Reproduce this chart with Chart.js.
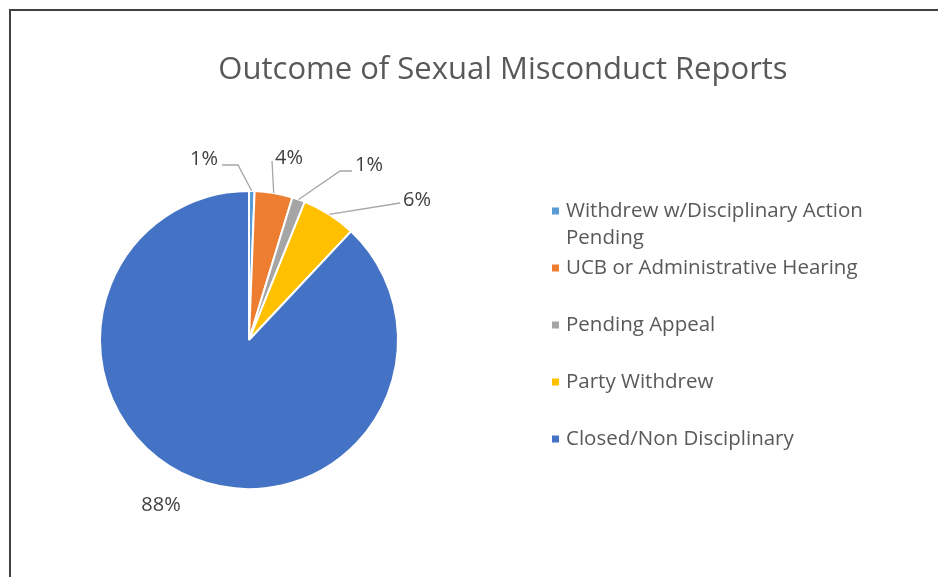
<!DOCTYPE html>
<html>
<head>
<meta charset="utf-8">
<script src="https://cdn.jsdelivr.net/npm/chart.js@4.4.1/dist/chart.umd.min.js"></script>
<style>
  html, body { margin: 0; padding: 0; background: #fff; }
  #wrap { position: relative; width: 938px; height: 577px; overflow: hidden; }
  #frame { position: absolute; left: 9px; top: 9px; width: 960px; height: 600px;
           border-left: 2px solid #404040; border-top: 2px solid #404040; box-sizing: border-box; pointer-events: none; }
  canvas { position: absolute; left: 0; top: 0; }
</style>
</head>
<body>
<div id="wrap">
  <canvas id="c" width="938" height="577"></canvas>
  <div id="frame"></div>
</div>
<script>
const titleText = "Outcome of Sexual Misconduct Reports";
const categories = [
  "Withdrew w/Disciplinary Action Pending",
  "UCB or Administrative Hearing",
  "Pending Appeal",
  "Party Withdrew",
  "Closed/Non Disciplinary"
];
const values = [0.6, 4.1, 1.4, 5.9, 88.0];
const colors = ["#5B9BD5", "#ED7D31", "#A5A5A5", "#FFC000", "#4472C4"];

const FONT = "'Open Sans', 'Liberation Sans', sans-serif";

// label placement (offset of label centre from pie centre) and leader style
const labelPlacement = [
  { dx: -45, dy: -181, elbow: true },
  { dx: 40, dy: -182, elbow: false },
  { dx: 120, dy: -175, elbow: true },
  { dx: 168, dy: -140, elbow: false },
  { dx: -88, dy: 165, elbow: false, noLine: true }
];

const total = values.reduce((a, b) => a + b, 0);

const decorPlugin = {
  id: 'decor',
  afterDraw(chart) {
    const ctx = chart.ctx;
    const meta = chart.getDatasetMeta(0);
    // title
    ctx.save();
    ctx.fillStyle = '#595959';
    ctx.font = "31px " + FONT;
    ctx.textAlign = 'center';
    ctx.textBaseline = 'middle';
    ctx.fillText(titleText, 503, 70);
    ctx.restore();

    // data labels with leader lines
    ctx.save();
    ctx.font = "20px " + FONT;
    ctx.textBaseline = 'middle';
    ctx.textAlign = 'center';
    meta.data.forEach((arc, i) => {
      const p = labelPlacement[i];
      const cx = arc.x, cy = arc.y, r = arc.outerRadius;
      const mid = (arc.startAngle + arc.endAngle) / 2;
      const ax = cx + Math.cos(mid) * r, ay = cy + Math.sin(mid) * r;
      const lx = cx + p.dx, ly = cy + p.dy;
      const txt = Math.round(values[i] / total * 100) + '%';
      const w = ctx.measureText(txt).width;
      if (!p.noLine) {
        ctx.strokeStyle = '#A6A6A6';
        ctx.lineWidth = 1.3;
        ctx.beginPath();
        ctx.moveTo(ax, ay);
        const left = lx < ax;
        const ex = left ? lx + w / 2 + 4 : lx - w / 2 - 3;
        const ey = ly + (p.elbow ? 6 : 3);
        if (p.elbow) {
          const bx = left ? ex + 16 : ex - 12;
          ctx.lineTo(bx, ey);
        }
        ctx.lineTo(ex, ey);
        ctx.stroke();
      }
      ctx.fillStyle = '#404040';
      ctx.fillText(txt, lx, ly);
    });
    ctx.restore();

    // legend
    ctx.save();
    ctx.font = "20.5px " + FONT;
    ctx.textBaseline = 'middle';
    ctx.textAlign = 'left';
    let y = 211;
    const maxW = 320;
    categories.forEach((name, i) => {
      const words = name.split(' ');
      const lines = [];
      let cur = '';
      words.forEach(wd => {
        const t = cur ? cur + ' ' + wd : wd;
        if (ctx.measureText(t).width > maxW && cur) { lines.push(cur); cur = wd; }
        else cur = t;
      });
      lines.push(cur);
      ctx.fillStyle = colors[i];
      ctx.fillRect(552, y - 3.5, 7, 7);
      ctx.fillStyle = '#595959';
      lines.forEach((ln, k) => ctx.fillText(ln, 566, y + k * 27));
      y += Math.max(57, lines.length * 28);
    });
    ctx.restore();
  }
};

new Chart(document.getElementById('c'), {
  type: 'pie',
  data: {
    labels: categories,
    datasets: [{
      data: values,
      backgroundColor: colors,
      borderColor: '#ffffff',
      borderWidth: 2
    }]
  },
  options: {
    responsive: false,
    animation: false,
    layout: { padding: { left: 99, right: 539, top: 190, bottom: 87 } },
    plugins: {
      legend: { display: false },
      title: { display: false },
      tooltip: { enabled: false }
    }
  },
  plugins: [decorPlugin]
});
</script>
</body>
</html>
